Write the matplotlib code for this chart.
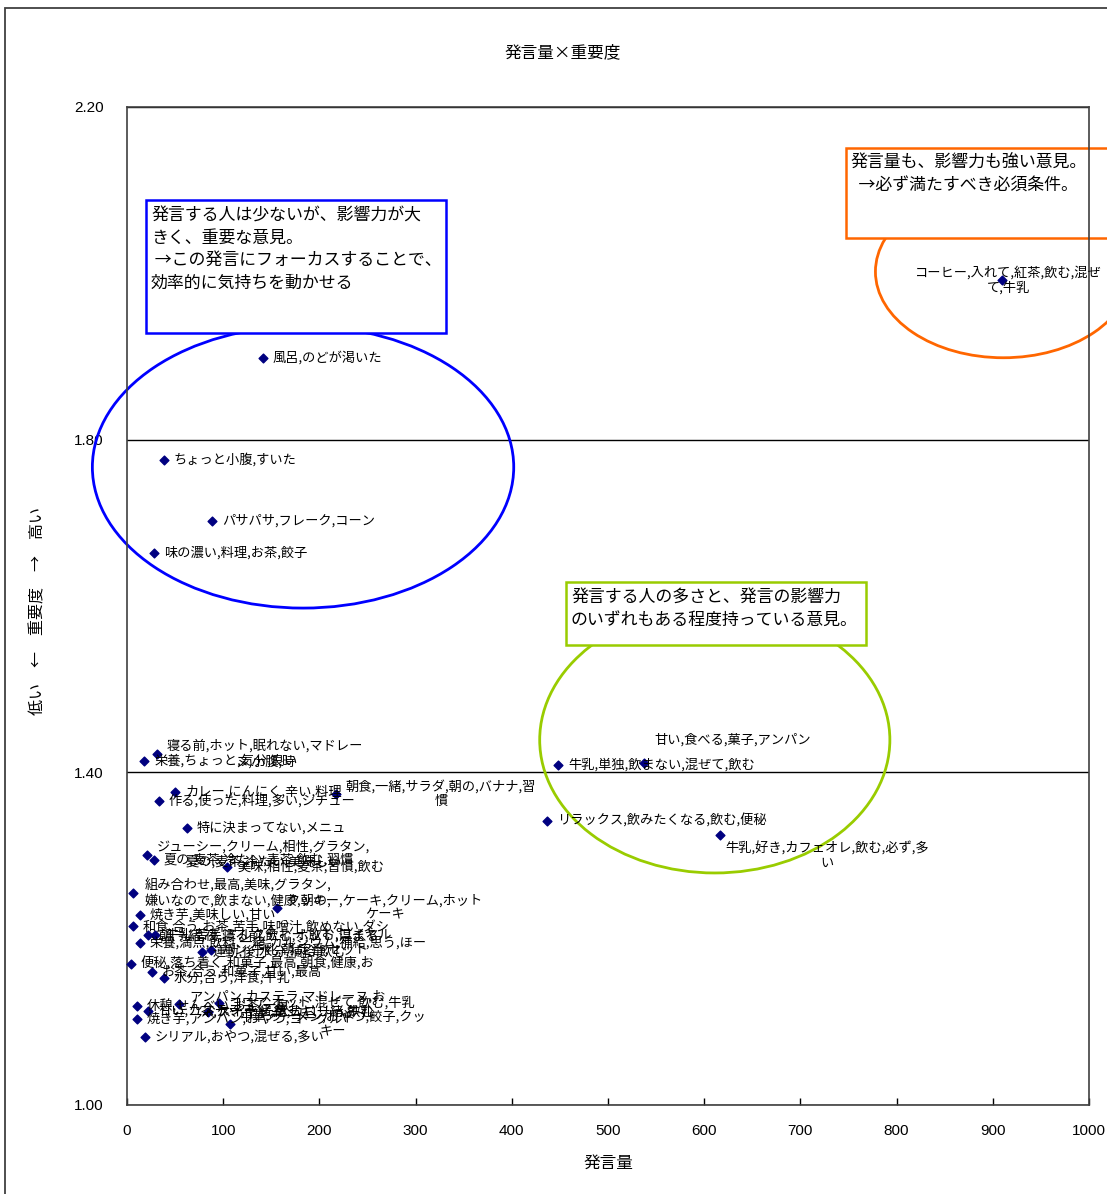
import matplotlib
matplotlib.use("Agg")
import matplotlib.pyplot as plt
from matplotlib.patches import Ellipse, Rectangle

# ── data ─────────────────────────────────────────────────────────────────────
# 発言量 (x) and 重要度 (y) for each opinion
speak = [141, 38, 88, 28, 910,
         537, 448, 437, 616,
         31, 18, 50, 217, 33, 62,
         21, 28, 104, 6, 156,
         13.5, 6, 22, 29, 13.5, 78, 87, 4, 26, 38.5,
         10.4, 22, 54, 84, 96, 10.4, 107, 18.7]
importance = [1.898, 1.776, 1.702, 1.664, 1.992,
              1.411, 1.409, 1.342, 1.325,
              1.422, 1.414, 1.376, 1.374, 1.366, 1.333,
              1.301, 1.295, 1.286, 1.255, 1.237,
              1.229, 1.215, 1.204, 1.204, 1.195, 1.184, 1.186, 1.170, 1.160, 1.153,
              1.119, 1.113, 1.121, 1.112, 1.123, 1.103, 1.097, 1.082]
labels = [
    "風呂,のどが渇いた",
    "ちょっと小腹,すいた",
    "パサパサ,フレーク,コーン",
    "味の濃い,料理,お茶,餃子",
    "コーヒー,入れて,紅茶,飲む,混ぜ\nて,牛乳",
    "甘い,食べる,菓子,アンパン",
    "牛乳,単独,飲まない,混ぜて,飲む",
    "リラックス,飲みたくなる,飲む,便秘",
    "牛乳,好き,カフェオレ,飲む,必ず,多\nい",
    "寝る前,ホット,眠れない,マドレー\nヌ,小腹,時",
    "栄養,ちょっと,気分,良い",
    "カレー,にんにく,辛い,料理",
    "朝食,一緒,サラダ,朝の,バナナ,習\n慣",
    "作る,使った,料理,多い,シチュー",
    "特に決まってない,メニュ",
    "ジューシー,クリーム,相性,グラタン,\n夏の,麦茶,冷たい,美味しい",
    "夏の,麦茶,冷たい,麦茶,飲む,習慣",
    "美味,相性,麦茶,習慣,飲む",
    "組み合わせ,最高,美味,グラタン,\n嫌いなので,飲まない,健康,朝の,",
    "クッキー,ケーキ,クリーム,ホット\nケーキ",
    "焼き芋,美味しい,甘い",
    "和食,合う,お茶,苦手,味噌汁,飲めない,ダシ",
    "朝,一緒,夜,寝る前,飲む,ホット,温まる",
    "牛乳,苦手,ミルクティー,飲む,ロイヤル",
    "栄養,満点,飲料,一緒,カルシウム,補給,思う,ほー",
    "運動,後,水分,補給,飲む",
    "パン,牛乳,朝,定番,セット",
    "便秘,落ち着く,和菓子,最高,朝食,健康,お",
    "お茶,合う,和菓子,甘い,最高",
    "水分,合う,洋食,牛乳",
    "休憩,せんべい,お茶,一息",
    "甘い,カステラ,一緒,飲む",
    "アンパン,カステラ,マドレーヌ,お\n茶,ケーキ,一緒,カロリー,牛乳",
    "スイーツ,ケーキ,一緒,飲む",
    "ココア,ホット,混ぜて,飲む,牛乳",
    "焼き芋,アンパン,おやつ,ヨーグルト",
    "中華,ラーメン,おやつ,餃子,クッ\nキー",
    "シリアル,おやつ,混ぜる,多い",
]

x_ticks = [0, 100, 200, 300, 400, 500, 600, 700, 800, 900, 1000]
y_ticks = [1.00, 1.40, 1.80, 2.20]

note_blue = "発言する人は少ないが、影響力が大\nきく、重要な意見。\n →この発言にフォーカスすることで、\n効率的に気持ちを動かせる"
note_orange = "発言量も、影響力も強い意見。\n  →必ず満たすべき必須条件。"
note_green = "発言する人の多さと、発言の影響力\nのいずれもある程度持っている意見。"

# ── visual settings ──────────────────────────────────────────────────────────
plt.rcParams["font.family"] = ["Noto Sans CJK JP", "DejaVu Sans"]
NUM_FONT = ["Liberation Sans Narrow", "Liberation Sans", "DejaVu Sans"]

W, H = 1107, 1194
fig = plt.figure(figsize=(W / 100, H / 100), dpi=100)
ax = fig.add_axes([127 / W, 1 - 1105 / H, (1089 - 127) / W, (1105 - 107) / H])

# outer chart frame (extends past the right and bottom of the picture)
fig.add_artist(Rectangle((5 / W, -0.2), 2.0, 1.2 - 8 / H, transform=fig.transFigure,
                         fill=False, edgecolor="#404040", lw=1.3))

ax.set_xlim(0, 1000)
ax.set_ylim(1.0, 2.2)
ax.set_xticks(x_ticks)
ax.set_yticks(y_ticks)
ax.set_xticklabels([str(v) for v in x_ticks], family=NUM_FONT, fontsize=11)
ax.set_yticklabels([f"{v:.2f}" for v in y_ticks], family=NUM_FONT, fontsize=11)
ax.tick_params(axis="x", direction="in", length=5, width=1, pad=14)
ax.tick_params(axis="y", length=0, pad=17)
ax.grid(axis="y", color="black", lw=1)
ax.set_axisbelow(True)
for sp in ax.spines.values():
    sp.set_color("#404040")
    sp.set_linewidth(1.2)

# ── marks ────────────────────────────────────────────────────────────────────
ax.scatter(speak, importance, marker="D", s=20, color="#000080", zorder=5, clip_on=False)

# label placements (pixel offsets, alignment); default: right of marker
label_pos = {4: (6, 0, "center"), 5: (11, 23, "left"), 8: (6, -21, "left"),
             9: (10, 0, "left"), 18: (12, 0, "left")}
for i, (x, y, t) in enumerate(zip(speak, importance, labels)):
    dx, dy, ha = label_pos.get(i, (10, 0, "left"))
    ax.annotate(t, xy=(x, y), xytext=(dx, dy), textcoords="offset pixels",
                ha=ha, va="center", multialignment="center", fontsize=9.5,
                linespacing=1.15, zorder=6, annotation_clip=False)

# ── annotation shapes ───────────────────────────────────────────────────────
ax.add_patch(Ellipse((183, 1.767), 438, 0.339, fill=False, edgecolor="#0000FF",
                     lw=2, zorder=2, clip_on=False))
ax.add_patch(Ellipse((911, 2.002), 266, 0.207, fill=False, edgecolor="#FF6600",
                     lw=2, zorder=2, clip_on=False))
ax.add_patch(Ellipse((611, 1.439), 364, 0.320, fill=False, edgecolor="#99CC00",
                     lw=2, zorder=2, clip_on=False))

boxes = [((19.8, 1.928), 311.8, 0.160, "#0000FF", note_blue, 3),
         ((747, 2.0425), 300, 0.108, "#FF6600", note_orange, 2.2),
         ((456.3, 1.5531), 311.9, 0.0758, "#99CC00", note_green, 3)]
for (bx, by), bw, bh, col, txt, z in boxes:
    ax.add_patch(Rectangle((bx, by), bw, bh, facecolor="white", edgecolor=col,
                           lw=1.8, zorder=z, clip_on=False))
    ax.annotate(txt, xy=(bx, by + bh), xytext=(5, -6), textcoords="offset pixels",
                ha="left", va="top", fontsize=12.2, linespacing=1.32,
                zorder=z + 0.1, annotation_clip=False)

# ── titles ───────────────────────────────────────────────────────────────────
fig.text(563 / W, 1 - 53 / H, "発言量×重要度", ha="center", va="center", fontsize=12)
ax.set_xlabel("発言量", fontsize=12, labelpad=12)
ax.set_ylabel("低い　←　重要度　→　高い", fontsize=11.5)
ax.yaxis.set_label_coords((46 - 127) / 962, 0.495)

fig.savefig("out.png", dpi=100)
